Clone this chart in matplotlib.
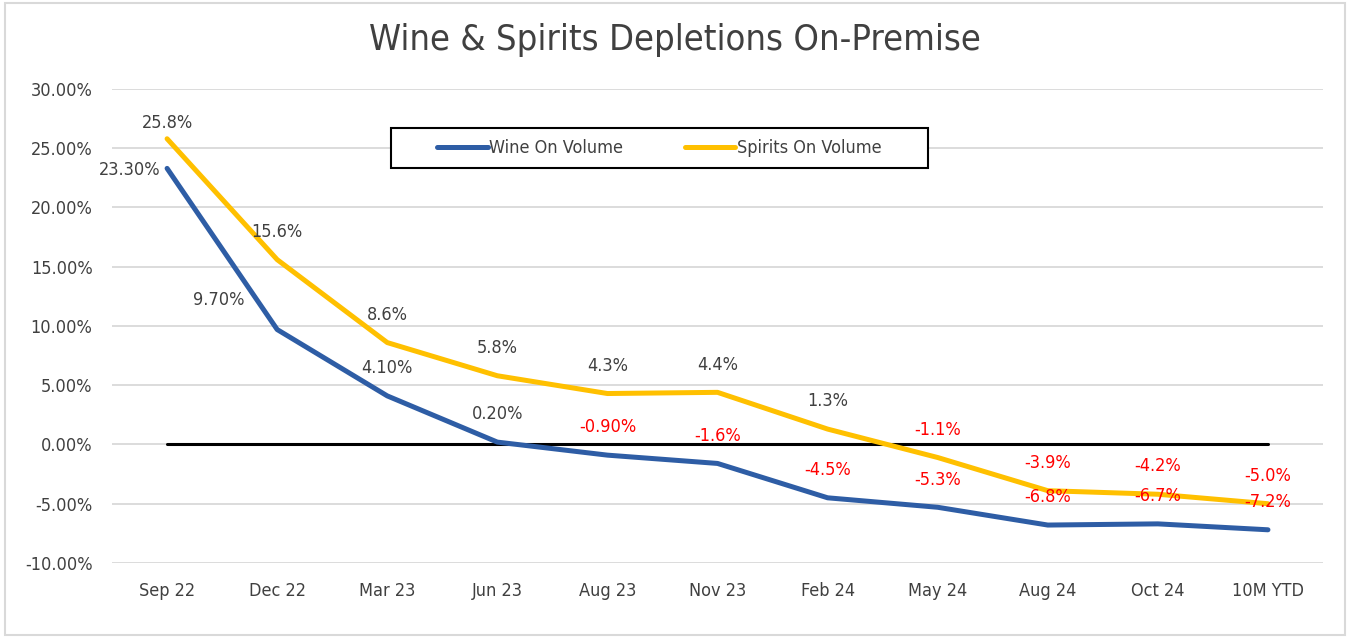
import matplotlib
matplotlib.use('Agg')

from matplotlib import pyplot as plt
from matplotlib.patches import Rectangle
import numpy as np

plt.rcParams['font.family'] = ['DejaVu Sans']
plt.rcParams['font.stretch'] = 'condensed'

# data
categories = ["Sep 22", "Dec 22", "Mar 23", "Jun 23", "Aug 23", "Nov 23",
              "Feb 24", "May 24", "Aug 24", "Oct 24", "10M YTD"]
wine = [23.3, 9.7, 4.1, 0.2, -0.9, -1.6, -4.5, -5.3, -6.8, -6.7, -7.2]
spirits = [25.8, 15.6, 8.6, 5.8, 4.3, 4.4, 1.3, -1.1, -3.9, -4.2, -5.0]
wine_labels = ["23.30%", "9.70%", "4.10%", "0.20%", "-0.90%", "-1.6%",
               "-4.5%", "-5.3%", "-6.8%", "-6.7%", "-7.2%"]
spirits_labels = ["25.8%", "15.6%", "8.6%", "5.8%", "4.3%", "4.4%",
                  "1.3%", "-1.1%", "-3.9%", "-4.2%", "-5.0%"]
yticks = [-10, -5, 0, 5, 10, 15, 20, 25, 30]

# label offsets in points (dx, dy)
wine_off = [(-27, -1), (-42, 21)] + [(0, 20)] * 9
spirits_off = [(0, 11)] + [(0, 20)] * 10

BLUE = '#2E5DA5'
GOLD = '#FFC000'
GREY = '#404040'
RED = '#FF0000'

fig = plt.figure(figsize=(13.5, 6.38), dpi=100)
ax = fig.add_axes([0.083, 0.1176, 0.897, 0.7429])

x = np.arange(len(categories))
ax.plot(x, np.zeros(len(x)), color='black', linewidth=2.2, solid_capstyle='round', zorder=2)
ax.plot(x, wine, color=BLUE, linewidth=3.6, solid_capstyle='round', label='Wine On Volume', zorder=3)
ax.plot(x, spirits, color=GOLD, linewidth=3.6, solid_capstyle='round', label='Spirits On Volume', zorder=3)

for i in range(len(x)):
    c = RED if wine[i] < 0 else GREY
    ax.annotate(wine_labels[i], (x[i], wine[i]), xytext=wine_off[i], textcoords='offset points',
                ha='center', va='center', fontsize=13, color=c, zorder=5)
    c = RED if spirits[i] < 0 else GREY
    ax.annotate(spirits_labels[i], (x[i], spirits[i]), xytext=spirits_off[i], textcoords='offset points',
                ha='center', va='center', fontsize=13, color=c, zorder=5)

ax.set_xlim(-0.5, len(x) - 0.5)
ax.set_ylim(-10, 30)
ax.set_yticks(yticks)
ax.set_yticklabels(["%.2f%%" % v for v in yticks])
ax.set_xticks(x)
ax.set_xticklabels(categories)
ax.tick_params(axis='both', length=0, labelsize=13, colors=GREY)
ax.tick_params(axis='x', pad=14)
ax.tick_params(axis='y', pad=14)
ax.grid(axis='y', color='#D9D9D9', linewidth=1.3)
ax.set_axisbelow(True)
for s in ax.spines.values():
    s.set_visible(False)

# legend with a hand-drawn box
ax.add_patch(Rectangle((0.2304, 0.8333), 0.4434, 0.0844, transform=ax.transAxes,
                       facecolor='white', edgecolor='black', linewidth=1.5, zorder=4))
leg = ax.legend(loc='center', bbox_to_anchor=(0.452, 0.8755), ncol=2, frameon=False,
                fontsize=13, handlelength=2.8, handletextpad=0.1, columnspacing=3.4)
leg.set_zorder(6)
for t in leg.get_texts():
    t.set_color(GREY)

fig.text(0.5, 0.937, 'Wine & Spirits Depletions On-Premise', ha='center', va='center',
         fontsize=26, color=GREY)

# outer border
fig.patches.append(Rectangle((0.004, 0.004), 0.992, 0.992, transform=fig.transFigure,
                             fill=False, edgecolor='#D9D9D9', linewidth=1.5))

plt.savefig('out.png', dpi=100)
